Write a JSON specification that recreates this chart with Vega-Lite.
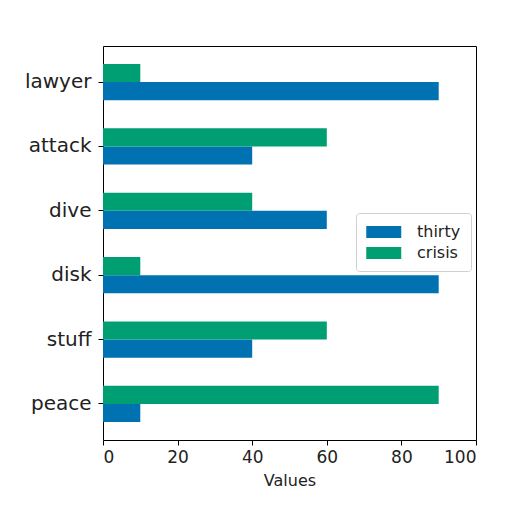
{
  "$schema": "https://vega.github.io/schema/vega-lite/v6.json",
  "width": 373,
  "height": 394,
  "autosize": "none",
  "padding": {"left": 103, "top": 46, "right": 36, "bottom": 72},
  "background": "white",
  "data": {
    "values": [
      {"word": "lawyer", "series": "thirty", "value": 90},
      {"word": "lawyer", "series": "crisis", "value": 10},
      {"word": "attack", "series": "thirty", "value": 40},
      {"word": "attack", "series": "crisis", "value": 60},
      {"word": "dive", "series": "thirty", "value": 60},
      {"word": "dive", "series": "crisis", "value": 40},
      {"word": "disk", "series": "thirty", "value": 90},
      {"word": "disk", "series": "crisis", "value": 10},
      {"word": "stuff", "series": "thirty", "value": 40},
      {"word": "stuff", "series": "crisis", "value": 60},
      {"word": "peace", "series": "thirty", "value": 10},
      {"word": "peace", "series": "crisis", "value": 90}
    ]
  },
  "mark": {"type": "bar", "cornerRadius": 0},
  "encoding": {
    "y": {
      "field": "word",
      "type": "nominal",
      "sort": ["lawyer", "attack", "dive", "disk", "stuff", "peace"],
      "scale": {"paddingInner": 0.4375, "paddingOuter": 0.28},
      "axis": {"title": null, "labelFontSize": 20, "labelPadding": 7}
    },
    "yOffset": {
      "field": "series",
      "type": "nominal",
      "sort": ["crisis", "thirty"],
      "scale": {"paddingInner": 0, "paddingOuter": 0}
    },
    "x": {
      "field": "value",
      "type": "quantitative",
      "scale": {"domain": [0, 100], "nice": false},
      "axis": {"title": "Values", "values": [0, 20, 40, 60, 80, 100], "labelFontSize": 17, "labelPadding": 4, "titleFontSize": 16, "titleFontWeight": "normal", "titlePadding": 7}
    },
    "color": {
      "field": "series",
      "type": "nominal",
      "scale": {"domain": ["thirty", "crisis"], "range": ["#0072B2", "#009E73"]},
      "legend": {
        "title": null,
        "orient": "none",
        "legendX": 253,
        "legendY": 167,
        "fillColor": "white",
        "strokeColor": "#d0d0d0",
        "cornerRadius": 3,
        "padding": 10,
        "labelFontSize": 16,
        "labelOffset": 33,
        "rowPadding": 4,
        "symbolType": "M-1,-0.68H3V0.68H-1Z",
        "symbolSize": 306,
        "symbolStrokeWidth": 0,
        "symbolOpacity": 1
      }
    }
  },
  "config": {
    "font": "DejaVu Sans",
    "view": {"stroke": "black", "strokeWidth": 1},
    "axis": {
      "grid": false,
      "domain": false,
      "tickColor": "black",
      "tickSize": 5,
      "labelColor": "#222",
      "titleColor": "#222",
      "labelFont": "DejaVu Sans",
      "titleFont": "DejaVu Sans"
    },
    "legend": {"labelFont": "DejaVu Sans", "labelColor": "#222"}
  }
}
